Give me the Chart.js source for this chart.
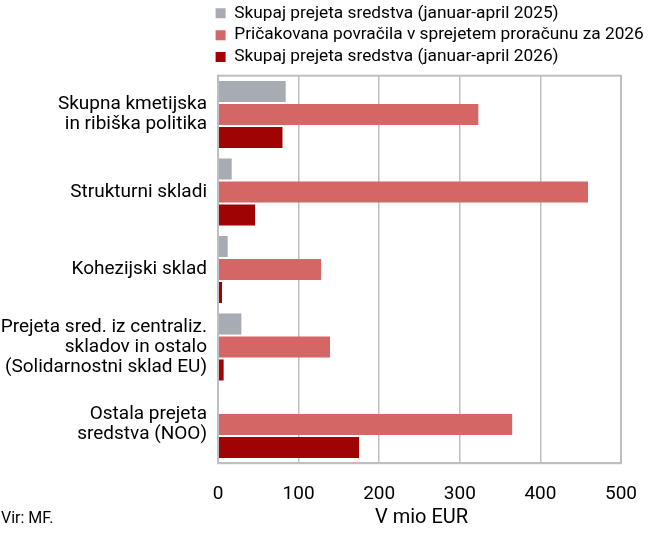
<!DOCTYPE html>
<html>
<head>
<meta charset="utf-8">
<script src="https://cdn.jsdelivr.net/npm/chart.js@4/dist/chart.umd.min.js"></script>
<style>
    html, body { margin: 0; padding: 0; background: #fff; }
    #wrap { width: 650px; height: 533px; }
</style>
</head>
<body>
<div id="wrap"><canvas id="eu"></canvas></div>
<script>
const categories = [
    ['Skupna kmetijska', 'in ribiška politika'],
    'Strukturni skladi',
    'Kohezijski sklad',
    ['Prejeta sred. iz centraliz.', 'skladov in ostalo', '(Solidarnostni sklad EU)'],
    ['Ostala prejeta', 'sredstva (NOO)']
];
const received2025 = [84, 17, 12, 29, 0];
const expected2026 = [323, 459, 128, 139, 365];
const received2026 = [80, 46, 5, 7, 175];
const xTicks = [0, 100, 200, 300, 400, 500];
const xTitle = 'V mio EUR';
const source = 'Vir: MF.';

const FONT = 'Roboto';
const GRID = '#bfbfbf';

// legend rows start at the plot's left edge, not the canvas edge
const legendLeft = {
    id: 'legendLeft',
    afterLayout(chart) {
        chart.legend.left = chart.chartArea.left - 7;
        chart.legend.right = chart.width;
    }
};

// grey frame round the plot
const chartAreaBorder = {
    id: 'chartAreaBorder',
    afterDatasetsDraw(chart) {
        const { ctx, chartArea: { left, top, width, height } } = chart;
        ctx.save();
        ctx.strokeStyle = GRID;
        ctx.lineWidth = 2;
        ctx.strokeRect(left, top, width, height);
        ctx.restore();
    }
};

// axis title and source line
const bottomTexts = {
    id: 'bottomTexts',
    afterDraw(chart) {
        const { ctx, chartArea: { left, right } } = chart;
        ctx.save();
        ctx.fillStyle = '#000';
        ctx.textBaseline = 'middle';
        ctx.font = `20px ${FONT}`;
        ctx.textAlign = 'center';
        ctx.fillText(xTitle, (left + right) / 2 + 2, 518);
        ctx.font = `16px ${FONT}`;
        ctx.textAlign = 'left';
        ctx.fillText(source, 1, 519);
        ctx.restore();
    }
};

new Chart(document.getElementById('eu'), {
    type: 'bar',
    plugins: [legendLeft, chartAreaBorder, bottomTexts],
    data: {
        labels: categories,
        datasets: [
            {
                label: 'Skupaj prejeta sredstva (januar-april 2025)',
                data: received2025,
                backgroundColor: '#a6acb2'
            },
            {
                label: 'Pričakovana povračila v sprejetem proračunu za 2026',
                data: expected2026,
                backgroundColor: '#d46666'
            },
            {
                label: 'Skupaj prejeta sredstva (januar-april 2026)',
                data: received2026,
                backgroundColor: '#a00303'
            }
        ]
    },
    options: {
        indexAxis: 'y',
        responsive: true,
        maintainAspectRatio: false,
        animation: false,
        categoryPercentage: 0.89,
        barPercentage: 0.91,
        layout: { padding: { left: 0, right: 29, top: 0, bottom: 7 } },
        scales: {
            x: {
                min: 0,
                max: 500,
                afterBuildTicks: axis => { axis.ticks = xTicks.map(v => ({ value: v })); },
                // tick padding should only push labels down, not squeeze the plot sideways
                afterFit: axis => { axis.paddingLeft = 0; axis.paddingRight = 0; },
                grid: { color: GRID, lineWidth: 1.5, drawTicks: false },
                border: { color: GRID, width: 2 },
                ticks: { color: '#000', font: { family: FONT, size: 19 }, padding: 20 }
            },
            y: {
                afterFit: axis => { axis.width = 218; },
                grid: { display: false, drawTicks: false },
                border: { color: GRID, width: 2 },
                ticks: { color: '#000', font: { family: FONT, size: 19, lineHeight: 1.05 }, padding: 11 }
            }
        },
        plugins: {
            legend: {
                position: 'top',
                align: 'start',
                labels: {
                    color: '#000',
                    font: { family: FONT, size: 17.3 },
                    boxWidth: 10,
                    boxHeight: 10,
                    padding: 4.6
                }
            },
            tooltip: { enabled: false }
        }
    }
});
</script>
</body>
</html>
